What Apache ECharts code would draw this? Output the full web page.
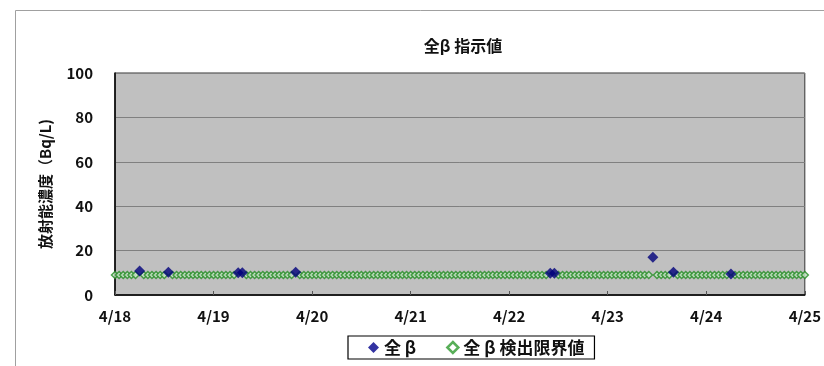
<!DOCTYPE html>
<html>
<head>
<meta charset="utf-8">
<script src="https://cdn.jsdelivr.net/npm/echarts@6/dist/echarts.min.js"></script>
<style>
  html, body { margin: 0; padding: 0; background: #fff; }
  #chart { width: 824px; height: 366px; }
</style>
</head>
<body>
<div id="chart"></div>
<script>
// X axis runs in hours from 4/18 00:00; one label per day
const dayLabels = ['4/18', '4/19', '4/20', '4/21', '4/22', '4/23', '4/24', '4/25'];

// 全β: detected values, [hour since 4/18 0:00, Bq/L]
const betaHours  = [6, 13, 30, 31, 44, 106, 107, 131, 136, 150];
const betaValues = [10.8, 10.2, 10.0, 10.0, 10.2, 9.8, 9.8, 17.0, 10.3, 9.5];

// 全β 検出限界値: hourly detection limit (null where a value was detected)
const limitValues = [
  9, 9, 9, 9, 9, 9, null, 9, 9, 9, 9, 9, 9, null, 9, 9, 9, 9, 9, 9, 9, 9, 9, 9,
  9, 9, 9, 9, 9, 9, null, null, 9, 9, 9, 9, 9, 9, 9, 9, 9, 9, 9, 9, null, 9, 9, 9,
  9, 9, 9, 9, 9, 9, 9, 9, 9, 9, 9, 9, 9, 9, 9, 9, 9, 9, 9, 9, 9, 9, 9, 9,
  9, 9, 9, 9, 9, 9, 9, 9, 9, 9, 9, 9, 9, 9, 9, 9, 9, 9, 9, 9, 9, 9, 9, 9,
  9, 9, 9, 9, 9, 9, 9, 9, 9, 9, null, null, 9, 9, 9, 9, 9, 9, 9, 9, 9, 9, 9, 9,
  9, 9, 9, 9, 9, 9, 9, 9, 9, 9, 9, null, 9, 9, 9, 9, null, 9, 9, 9, 9, 9, 9, 9,
  9, 9, 9, 9, 9, 9, null, 9, 9, 9, 9, 9, 9, 9, 9, 9, 9, 9, 9, 9, 9, 9, 9, 9,
  9
];

const yTicks = [0, 20, 40, 60, 80, 100];

const font = '"Noto Sans CJK JP", "Liberation Sans", sans-serif';

const betaData = betaHours.map((h, i) => [h, betaValues[i]]);
const limitData = limitValues.map((v, h) => [h, v]);

const chart = echarts.init(document.getElementById('chart'));
chart.setOption({
  animation: false,
  backgroundColor: '#ffffff',
  graphic: [
    {
      type: 'rect',
      shape: { x: 15.5, y: 10.5, width: 840, height: 400 },
      style: { fill: 'none', stroke: '#a0a0a0', lineWidth: 1 },
      z: -1
    }
  ],
  title: {
    text: '全β 指示値',
    left: 458,
    top: 33,
    textAlign: 'center',
    textStyle: { fontFamily: font, fontSize: 16, fontWeight: 'bold', color: '#111' }
  },
  legend: {
    left: 348,
    top: 336,
    itemGap: 26,
    padding: [3, 10, 3, 20],
    borderColor: '#000',
    borderWidth: 1.2,
    itemWidth: 11,
    itemHeight: 11,
    // a little breathing room around the β glyph
    formatter: name => name.replace('β', ' β '),
    textStyle: { fontFamily: font, fontSize: 17, fontWeight: 'bold', color: '#111' },
    data: [
      { name: '全β', icon: 'diamond', itemStyle: { color: '#00008b' } },
      { name: '全β検出限界値', icon: 'diamond',
        itemStyle: { color: '#ffffff', borderColor: '#2e9a2e', borderWidth: 2.5 } }
    ]
  },
  grid: {
    left: 115, right: 16, top: 73, bottom: 71,
    show: true,
    backgroundColor: '#c0c0c0',
    borderColor: '#333',
    borderWidth: 1
  },
  xAxis: {
    type: 'value',
    min: 0,
    max: 168,
    interval: 24,
    axisLine: { show: true, lineStyle: { color: '#000', width: 1.5 } },
    axisTick: { show: true, inside: true, length: 4, lineStyle: { color: '#555' } },
    splitLine: { show: false },
    axisLabel: {
      fontFamily: font, fontSize: 15, fontWeight: 'bold', color: '#111', margin: 14,
      formatter: v => dayLabels[Math.round(v / 24)]
    }
  },
  yAxis: {
    type: 'value',
    min: 0,
    max: 100,
    interval: 20,
    name: '放射能濃度（Bq/L)',
    nameLocation: 'middle',
    nameGap: 62,
    nameTextStyle: { fontFamily: font, fontSize: 15, fontWeight: 'bold', color: '#111' },
    axisLine: { show: true, lineStyle: { color: '#000', width: 1.5 } },
    axisTick: { show: false },
    splitLine: { show: true, lineStyle: { color: '#808080', width: 1 } },
    axisLabel: {
      fontFamily: font, fontSize: 15, fontWeight: 'bold', color: '#111', margin: 22,
      formatter: v => (yTicks.includes(v) ? String(v) : '')
    }
  },
  series: [
    {
      name: '全β検出限界値',
      type: 'scatter',
      symbol: 'diamond',
      symbolSize: 7,
      itemStyle: { color: '#cde6cd', borderColor: '#248c24', borderWidth: 1.5 },
      data: limitData,
      z: 2
    },
    {
      name: '全β',
      type: 'scatter',
      symbol: 'diamond',
      symbolSize: 11,
      itemStyle: { color: '#00007a' },
      data: betaData,
      z: 3
    }
  ]
});
</script>
</body>
</html>
